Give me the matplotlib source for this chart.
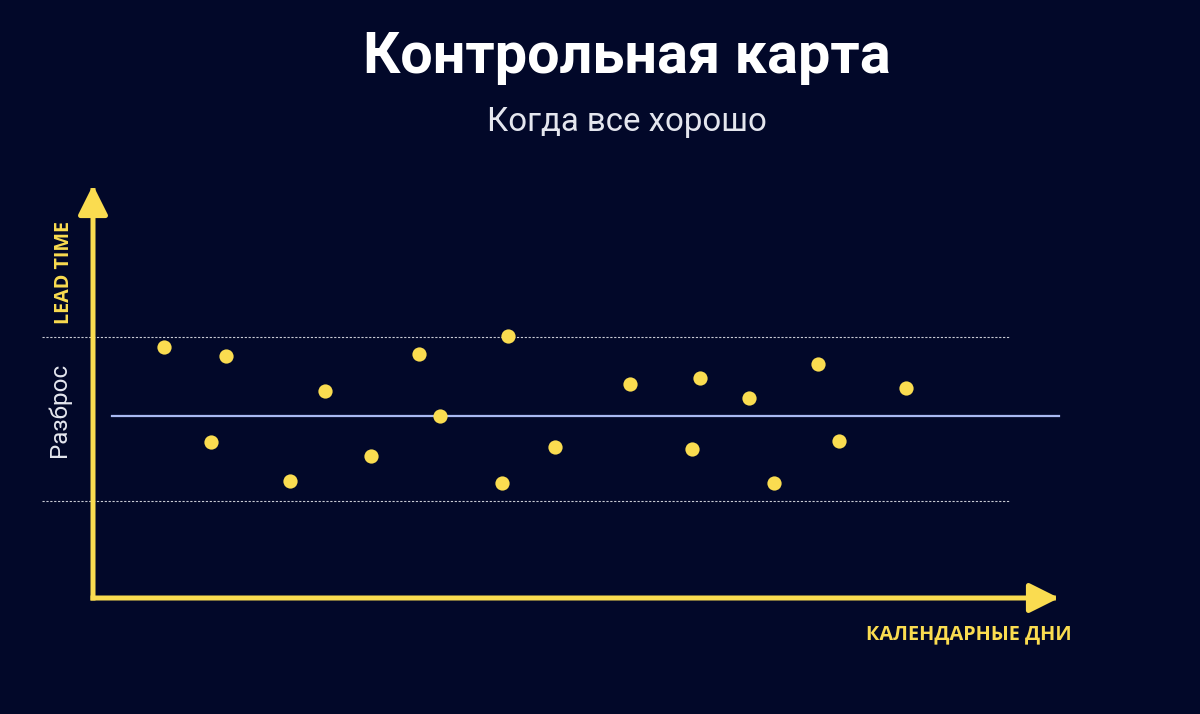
import numpy as np
import matplotlib.pyplot as plt

# points of the chart: day (x) and lead time (y)
days = [7.1, 11.8, 13.3, 19.7, 23.2, 27.8, 32.6, 34.7, 40.9, 41.5,
        46.2, 53.7, 59.9, 60.7, 65.6, 68.1, 72.5, 74.6, 81.3]
lead_time = [25.1, 15.6, 24.2, 11.7, 20.7, 14.2, 24.4, 18.2, 11.5, 26.2,
             15.1, 21.4, 14.9, 22.0, 20.0, 11.5, 23.4, 15.7, 21.0]
mean_lt = 18.2
upper_lt = 26.1
lower_lt = 9.7

title = "Контрольная карта"
subtitle = "Когда все хорошо"
y_label = "LEAD TIME"
spread_label = "Разброс"
x_label = "КАЛЕНДАРНЫЕ ДНИ"

bg = "#020829"
yellow = "#FADC50"
line_blue = "#A9B9F2"
light = "#E4E6EE"

fig = plt.figure(figsize=(12, 7.14), dpi=100, facecolor=bg)
ax = fig.add_axes([0, 0, 1, 1])
ax.set_facecolor(bg)
ax.set_xlim(-9.3, 110.7)
ax.set_ylim(-11.6, 59.8)
ax.axis("off")

# control limits
ax.plot([-5.1, 91.7], [upper_lt, upper_lt], color="#C8CAD4", lw=0.8,
        ls=(0, (2, 1.5)))
ax.plot([-5.1, 91.7], [lower_lt, lower_lt], color="#C8CAD4", lw=0.8,
        ls=(0, (2, 1.5)))
ax.plot([1.9, 96.6], [mean_lt, mean_lt], color=line_blue, lw=1.6)

# axes arrows
arrow = dict(arrowstyle="-|>,head_length=1.0,head_width=0.5", color=yellow,
             lw=3.6, mutation_scale=18, shrinkA=0, shrinkB=0,
             capstyle="projecting")
ax.annotate("", xy=(0, 41.3), xytext=(0, 0), arrowprops=arrow)
ax.annotate("", xy=(96.6, 0), xytext=(0, 0), arrowprops=arrow)

ax.scatter(days, lead_time, s=105, color=yellow, zorder=5, linewidths=0)

ax.text(0.5225, 0.92, title, transform=ax.transAxes, ha="center", va="center",
        fontsize=41.5, fontweight="bold", color="white", family="Roboto")
ax.text(0.5225, 0.829, subtitle, transform=ax.transAxes, ha="center",
        va="center", fontsize=23.8, color=light, family="Roboto")
ax.text(0.0533, 0.619, y_label, transform=ax.transAxes, ha="center",
        va="center", rotation=90, fontsize=14.2, fontweight="bold",
        color=yellow, family="Open Sans")
ax.text(0.0495, 0.426, spread_label, transform=ax.transAxes, ha="center",
        va="center", rotation=90, fontsize=17.5, color=light, family="Roboto")
ax.text(0.8075, 0.111, x_label, transform=ax.transAxes, ha="center",
        va="center", fontsize=14.3, fontweight="bold", color=yellow,
        family="Open Sans")

fig.savefig("out.png", dpi=100, facecolor=bg)
